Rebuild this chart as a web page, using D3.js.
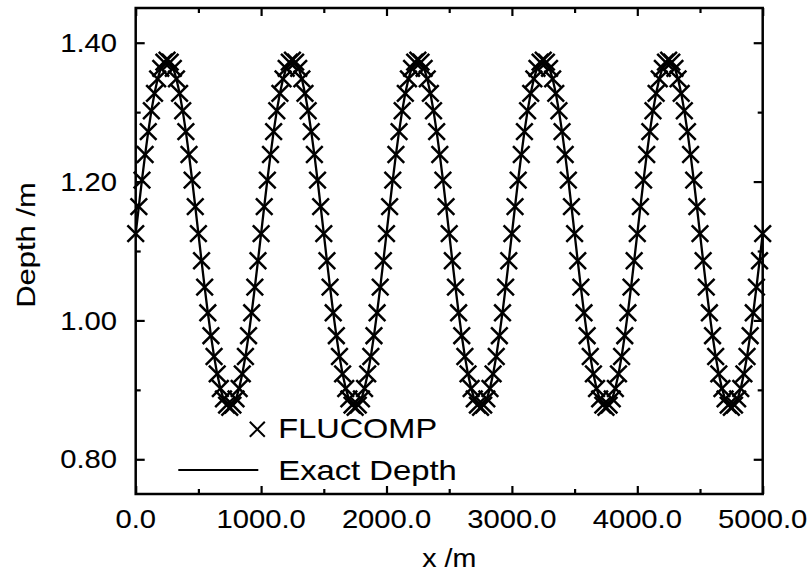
<!DOCTYPE html>
<html>
<head>
<meta charset="utf-8">
<script src="https://cdn.jsdelivr.net/npm/d3@7/dist/d3.min.js"></script>
<style>
  html, body { margin: 0; padding: 0; background: #fff; }
  svg { display: block; }
  text { font-family: "Liberation Sans", Arial, Helvetica, sans-serif; fill: #000; stroke: #000; stroke-width: 0.1; }
</style>
</head>
<body>
<svg id="chart" width="812" height="575"></svg>
<script>
// Sample positions along the channel (m), every 25 m from 0 to 5000
const xPositions = d3.range(0, 5001, 25);

// FLUCOMP computed depth (m) at each sample position
const flucompDepth = [
  1.125,1.164,1.202,1.239,1.272,1.302,1.327,1.348,1.363,1.372,1.375,1.372,1.363,1.348,1.327,1.302,1.272,1.239,1.202,1.164,1.125,1.086,1.048,1.011,0.978,0.948,0.923,0.902,0.887,0.878,0.875,0.878,0.887,0.902,0.923,0.948,0.978,1.011,1.048,1.086,
  1.125,1.164,1.202,1.239,1.272,1.302,1.327,1.348,1.363,1.372,1.375,1.372,1.363,1.348,1.327,1.302,1.272,1.239,1.202,1.164,1.125,1.086,1.048,1.011,0.978,0.948,0.923,0.902,0.887,0.878,0.875,0.878,0.887,0.902,0.923,0.948,0.978,1.011,1.048,1.086,
  1.125,1.164,1.202,1.239,1.272,1.302,1.327,1.348,1.363,1.372,1.375,1.372,1.363,1.348,1.327,1.302,1.272,1.239,1.202,1.164,1.125,1.086,1.048,1.011,0.978,0.948,0.923,0.902,0.887,0.878,0.875,0.878,0.887,0.902,0.923,0.948,0.978,1.011,1.048,1.086,
  1.125,1.164,1.202,1.239,1.272,1.302,1.327,1.348,1.363,1.372,1.375,1.372,1.363,1.348,1.327,1.302,1.272,1.239,1.202,1.164,1.125,1.086,1.048,1.011,0.978,0.948,0.923,0.902,0.887,0.878,0.875,0.878,0.887,0.902,0.923,0.948,0.978,1.011,1.048,1.086,
  1.125,1.164,1.202,1.239,1.272,1.302,1.327,1.348,1.363,1.372,1.375,1.372,1.363,1.348,1.327,1.302,1.272,1.239,1.202,1.164,1.125,1.086,1.048,1.011,0.978,0.948,0.923,0.902,0.887,0.878,0.875,0.878,0.887,0.902,0.923,0.948,0.978,1.011,1.048,1.086,
  1.125
];

// Exact depth (m) at the same positions
const exactDepth = [
  1.1250,1.1641,1.2023,1.2385,1.2719,1.3018,1.3273,1.3478,1.3628,1.3719,1.3750,1.3719,1.3628,1.3478,1.3273,1.3018,1.2719,1.2385,1.2023,1.1641,1.1250,1.0859,1.0477,1.0115,0.9781,0.9482,0.9227,0.9022,0.8872,0.8781,0.8750,0.8781,0.8872,0.9022,0.9227,0.9482,0.9781,1.0115,1.0477,1.0859,
  1.1250,1.1641,1.2023,1.2385,1.2719,1.3018,1.3273,1.3478,1.3628,1.3719,1.3750,1.3719,1.3628,1.3478,1.3273,1.3018,1.2719,1.2385,1.2023,1.1641,1.1250,1.0859,1.0477,1.0115,0.9781,0.9482,0.9227,0.9022,0.8872,0.8781,0.8750,0.8781,0.8872,0.9022,0.9227,0.9482,0.9781,1.0115,1.0477,1.0859,
  1.1250,1.1641,1.2023,1.2385,1.2719,1.3018,1.3273,1.3478,1.3628,1.3719,1.3750,1.3719,1.3628,1.3478,1.3273,1.3018,1.2719,1.2385,1.2023,1.1641,1.1250,1.0859,1.0477,1.0115,0.9781,0.9482,0.9227,0.9022,0.8872,0.8781,0.8750,0.8781,0.8872,0.9022,0.9227,0.9482,0.9781,1.0115,1.0477,1.0859,
  1.1250,1.1641,1.2023,1.2385,1.2719,1.3018,1.3273,1.3478,1.3628,1.3719,1.3750,1.3719,1.3628,1.3478,1.3273,1.3018,1.2719,1.2385,1.2023,1.1641,1.1250,1.0859,1.0477,1.0115,0.9781,0.9482,0.9227,0.9022,0.8872,0.8781,0.8750,0.8781,0.8872,0.9022,0.9227,0.9482,0.9781,1.0115,1.0477,1.0859,
  1.1250,1.1641,1.2023,1.2385,1.2719,1.3018,1.3273,1.3478,1.3628,1.3719,1.3750,1.3719,1.3628,1.3478,1.3273,1.3018,1.2719,1.2385,1.2023,1.1641,1.1250,1.0859,1.0477,1.0115,0.9781,0.9482,0.9227,0.9022,0.8872,0.8781,0.8750,0.8781,0.8872,0.9022,0.9227,0.9482,0.9781,1.0115,1.0477,1.0859,
  1.1250
];

// Axis ticks
const xMajorTicks = [0, 1000, 2000, 3000, 4000, 5000];
const xMinorTicks = [500, 1500, 2500, 3500, 4500];
const yMajorTicks = [0.80, 1.00, 1.20, 1.40];
const yMinorTicks = [0.90, 1.10, 1.30];

const seriesNames = ["FLUCOMP", "Exact Depth"];
const xTitle = "x /m";
const yTitle = "Depth /m";

const plot = { left: 135.7, right: 762.7, top: 8, bottom: 494 };

const x = d3.scaleLinear().domain([0, 5000]).range([plot.left, plot.right]);
const y = d3.scaleLinear().domain([0.75, 1.45]).range([plot.bottom, plot.top]);

const svg = d3.select("#chart");

// Wide sans-serif lettering: glyphs stretched along the reading direction
const stretch = 1.14;
function wideText(parent, tx, ty, str, size, anchor, rotate, sx) {
  return parent.append("text")
    .attr("transform", `translate(${tx},${ty})${rotate ? " rotate(" + rotate + ")" : ""} scale(${sx || stretch},1)`)
    .attr("text-anchor", anchor)
    .attr("font-size", size)
    .text(str);
}

function styleAxis(g) {
  g.select(".domain").remove();
  g.selectAll(".tick line").attr("stroke", "#000").attr("stroke-width", 2.2);
}

function ticks(axisFn, scale, values, len, tx, ty) {
  svg.append("g")
    .attr("transform", `translate(${tx},${ty})`)
    .call(axisFn(scale).tickValues(values).tickFormat("").tickSizeInner(-len).tickSizeOuter(0))
    .call(styleAxis);
}

// Inward ticks on all four sides
ticks(d3.axisBottom, x, xMajorTicks, 8, 0, plot.bottom);
ticks(d3.axisBottom, x, xMinorTicks, 5, 0, plot.bottom);
ticks(d3.axisTop, x, xMajorTicks, 8, 0, plot.top);
ticks(d3.axisTop, x, xMinorTicks, 5, 0, plot.top);
ticks(d3.axisLeft, y, yMajorTicks, 9, plot.left, 0);
ticks(d3.axisLeft, y, yMinorTicks, 5, plot.left, 0);
ticks(d3.axisRight, y, yMajorTicks, 9, plot.right, 0);
ticks(d3.axisRight, y, yMinorTicks, 5, plot.right, 0);

// Tick labels
const fx = d3.format(".1f"), fy = d3.format(".2f");
const labels = svg.append("g");
xMajorTicks.forEach(v => wideText(labels, x(v), 528.3, fx(v), 25.6, "middle"));
yMajorTicks.forEach(v => wideText(labels, 117, y(v) + 9.2, fy(v), 25.6, "end"));

// Plot frame
svg.append("rect")
  .attr("x", plot.left).attr("y", plot.top)
  .attr("width", plot.right - plot.left).attr("height", plot.bottom - plot.top)
  .attr("fill", "none").attr("stroke", "#000").attr("stroke-width", 2.5);

// Exact depth line
const line = d3.line().x((d, i) => x(xPositions[i])).y(d => y(d));
svg.append("path")
  .datum(exactDepth)
  .attr("d", line)
  .attr("fill", "none")
  .attr("stroke", "#000")
  .attr("stroke-width", 2.3)
  .attr("stroke-linejoin", "round");

// FLUCOMP markers (crosses)
const crossPath = s => `M${-s},${-s}L${s},${s}M${-s},${s}L${s},${-s}`;
svg.append("g")
  .selectAll("path")
  .data(flucompDepth)
  .join("path")
  .attr("transform", (d, i) => `translate(${x(xPositions[i])},${y(d)})`)
  .attr("d", crossPath(8.3))
  .attr("fill", "none")
  .attr("stroke", "#000")
  .attr("stroke-width", 2.5);

// Legend
const legend = svg.append("g");
legend.append("path")
  .attr("transform", "translate(257.3,429.3)")
  .attr("d", crossPath(7.5))
  .attr("fill", "none").attr("stroke", "#000").attr("stroke-width", 2);
wideText(legend, 278.3, 438, seriesNames[0], 28, "start", 0, 1.16);
legend.append("line")
  .attr("x1", 178.3).attr("x2", 258.3).attr("y1", 470).attr("y2", 470)
  .attr("stroke", "#000").attr("stroke-width", 2.2);
wideText(legend, 278.3, 480, seriesNames[1], 28, "start", 0, 1.17);

// Axis titles
wideText(svg, (plot.left + plot.right) / 2, 566.5, xTitle, 26, "middle", 0, 1.1);
wideText(svg, 35, 245, yTitle, 26, "middle", -90, 1.19);
</script>
</body>
</html>
